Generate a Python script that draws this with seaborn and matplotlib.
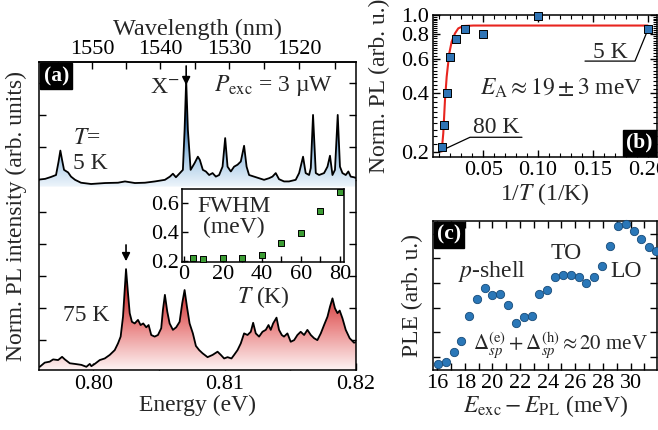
import numpy as np
import matplotlib
matplotlib.use('Agg')
import matplotlib.pyplot as plt
import seaborn as sns
from matplotlib.colors import LinearSegmentedColormap
from matplotlib.patches import PathPatch
from matplotlib.ticker import MultipleLocator, FixedLocator, NullFormatter, FormatStrFormatter

## data ##

# (a) PL spectra, 5 K (top) and 75 K (bottom), offset arbitrary units
energy_5K = [0.79591, 0.79633, 0.79678, 0.79716, 0.79735, 0.79749, 0.79762, 0.79777, 0.79808, 0.79830,
             0.79861, 0.79906, 0.79983, 0.80089, 0.80188, 0.80241, 0.80317, 0.80393, 0.80469, 0.80545,
             0.80583, 0.80606, 0.80629, 0.80659, 0.80682, 0.80695, 0.80707, 0.80720, 0.80741, 0.80771,
             0.80796, 0.80811, 0.80834, 0.80857, 0.80882, 0.80908, 0.80933, 0.80958, 0.80984, 0.81004,
             0.81022, 0.81047, 0.81072, 0.81098, 0.81123, 0.81148, 0.81167, 0.81186, 0.81224, 0.81262,
             0.81300, 0.81338, 0.81364, 0.81389, 0.81414, 0.81452, 0.81490, 0.81541, 0.81567, 0.81597,
             0.81617, 0.81643, 0.81656, 0.81673, 0.81694, 0.81719, 0.81757, 0.81783, 0.81802, 0.81821,
             0.81840, 0.81861, 0.81878, 0.81897, 0.81922, 0.81942, 0.81960, 0.81985, 0.81998]
pl_5K = [6.00, 6.02, 6.08, 6.14, 6.55, 6.90, 6.61, 6.30, 6.22, 6.09,
         5.99, 5.90, 5.86, 5.89, 5.90, 5.94, 5.89, 5.90, 5.94, 5.99,
         6.09, 6.18, 6.07, 6.20, 6.30, 7.55, 9.10, 7.55, 6.30, 6.51,
         6.71, 6.61, 6.30, 6.25, 6.14, 6.20, 6.09, 6.14, 6.40, 7.29,
         6.40, 6.25, 6.40, 6.46, 6.56, 7.05, 6.40, 6.14, 6.09, 6.04,
         5.99, 6.04, 6.09, 6.20, 6.01, 5.94, 5.94, 5.99, 6.20, 6.71,
         6.20, 6.14, 6.36, 8.01, 6.20, 6.14, 6.20, 6.40, 6.74, 6.14,
         6.30, 8.01, 6.40, 6.20, 6.14, 6.25, 6.09, 6.07, 6.05]

energy_75K = [0.79592, 0.79630, 0.79668, 0.79694, 0.79732, 0.79762, 0.79783, 0.79821, 0.79859, 0.79909,
              0.79947, 0.79973, 0.79985, 0.80011, 0.80049, 0.80087, 0.80125, 0.80163, 0.80188, 0.80208,
              0.80226, 0.80249, 0.80264, 0.80277, 0.80294, 0.80315, 0.80340, 0.80360, 0.80380, 0.80403,
              0.80421, 0.80441, 0.80467, 0.80492, 0.80517, 0.80530, 0.80545, 0.80563, 0.80581, 0.80606,
              0.80631, 0.80657, 0.80677, 0.80695, 0.80713, 0.80733, 0.80758, 0.80781, 0.80806, 0.80832,
              0.80870, 0.80908, 0.80946, 0.80971, 0.80996, 0.81022, 0.81052, 0.81072, 0.81098, 0.81123,
              0.81148, 0.81174, 0.81199, 0.81217, 0.81237, 0.81262, 0.81288, 0.81313, 0.81334, 0.81351,
              0.81369, 0.81395, 0.81414, 0.81435, 0.81452, 0.81478, 0.81503, 0.81529, 0.81554, 0.81579,
              0.81605, 0.81630, 0.81656, 0.81681, 0.81706, 0.81732, 0.81757, 0.81783, 0.81802, 0.81821,
              0.81840, 0.81859, 0.81876, 0.81897, 0.81922, 0.81952, 0.81985, 0.82005]
pl_75K = [0.17, 0.30, 0.33, 0.40, 0.38, 0.48, 0.40, 0.28, 0.26, 0.23,
          0.17, 0.26, 0.19, 0.26, 0.38, 0.43, 0.54, 0.69, 0.90, 1.11,
          1.73, 3.21, 2.46, 1.84, 1.57, 1.52, 1.63, 1.47, 1.52, 1.40,
          1.47, 1.16, 1.11, 1.16, 1.37, 1.94, 2.41, 1.89, 1.52, 1.32,
          1.40, 1.57, 2.15, 2.56, 2.04, 1.52, 1.21, 0.82, 0.69, 0.59,
          0.47, 0.54, 0.64, 0.54, 0.43, 0.47, 0.43, 0.54, 0.69, 0.90,
          1.21, 1.16, 1.26, 1.54, 1.21, 1.11, 1.26, 1.32, 1.47, 1.32,
          1.52, 1.70, 1.32, 1.16, 1.11, 1.21, 0.95, 1.00, 1.16, 1.26,
          1.16, 1.32, 1.16, 1.06, 1.00, 1.21, 1.47, 1.73, 2.04, 2.30,
          1.99, 1.84, 1.92, 1.68, 1.32, 1.06, 0.92, 0.95]

# (a) inset: linewidth vs temperature
fwhm_T = [5, 10, 20, 30, 40, 50, 60, 70, 80]
fwhm_meV = [0.218, 0.217, 0.222, 0.223, 0.243, 0.321, 0.392, 0.542, 0.670]

# (b) integrated PL vs 1/T and Arrhenius fit line
temps_K = [80, 70, 60, 50, 40, 30, 20, 10, 5]
norm_pl = [0.213, 0.274, 0.401, 0.610, 0.757, 0.848, 0.803, 0.988, 0.848]
fit_invT = [0.01205, 0.01351, 0.01506, 0.01661, 0.01898, 0.02117, 0.02418, 0.02719, 0.03176, 0.04088, 0.2000]
fit_pl = [0.201, 0.249, 0.368, 0.484, 0.638, 0.731, 0.806, 0.855, 0.879, 0.884, 0.884]

# (c) PLE
ple_dE = [16.02, 16.65, 17.18, 17.74, 18.32, 18.87, 19.43, 19.96, 20.57, 21.12,
          21.70, 22.26, 22.86, 23.39, 23.95, 24.53, 25.11, 25.66, 26.24, 26.80,
          27.35, 27.93, 28.49, 29.07, 29.67, 30.25, 30.78, 31.36, 31.87]
ple_int = [0.72, 0.80, 1.21, 1.65, 2.66, 3.36, 3.80, 3.50, 3.54, 3.10,
           2.37, 2.62, 2.67, 3.54, 3.71, 4.24, 4.31, 4.32, 4.23, 3.99,
           4.24, 4.69, 5.51, 6.32, 6.37, 6.11, 5.76, 5.44, 5.30]


## style ##
sns.set_theme(style='ticks')
plt.rcParams['font.family'] = ['Liberation Serif', 'DejaVu Serif']
plt.rcParams['mathtext.fontset'] = 'stix'
plt.rcParams['font.size'] = 16
plt.rcParams['axes.linewidth'] = 1.1
plt.rcParams['axes.edgecolor'] = 'black'
plt.rcParams['xtick.color'] = 'black'
plt.rcParams['ytick.color'] = 'black'
plt.rcParams['xtick.labelsize'] = 16
plt.rcParams['ytick.labelsize'] = 16
plt.rcParams['axes.labelsize'] = 17

LABEL_FS = 17


def gradient_fill(ax, x, y, y0, y_sat, colors):
    # vertical colour gradient clipped to the area under the curve
    x = np.asarray(x)
    y = np.asarray(y)
    poly = ax.fill_between(x, y, y0, facecolor='none', edgecolor='none')
    path = poly.get_paths()[0]
    cmap = LinearSegmentedColormap.from_list('grad', colors)
    levels = np.linspace(y0, y.max(), 400)
    grad = np.clip((levels - y0) / (y_sat - y0), 0, 1).reshape(-1, 1)
    im = ax.imshow(grad, extent=[x.min(), x.max(), y0, y.max()], origin='lower',
                   aspect='auto', cmap=cmap, vmin=0, vmax=1, zorder=1, interpolation='bilinear')
    clip = PathPatch(path, transform=ax.transData, facecolor='none', edgecolor='none')
    ax.add_patch(clip)
    im.set_clip_path(clip)


def panel_label(ax, text, corner):
    if corner == 'tl':
        xy, off, ha, va = (0, 1), (3, -3), 'left', 'top'
    else:
        xy, off, ha, va = (1, 0), (-3, 3), 'right', 'bottom'
    ax.annotate(text, xy=xy, xycoords='axes fraction', xytext=off, textcoords='offset points',
                ha=ha, va=va, color='white', fontweight='bold', fontsize=15.5, zorder=10,
                bbox=dict(boxstyle='square,pad=0.15', fc='black', ec='black'))


def e2l(e):
    e = np.asarray(e, dtype=float)
    with np.errstate(divide='ignore', invalid='ignore'):
        return 1239.84 / e


fig = plt.figure(figsize=(6.58, 4.30), dpi=100)
ax_a = fig.add_axes([0.060, 0.1395, 0.481, 0.7165])
ax_in = fig.add_axes([0.2766, 0.3907, 0.2467, 0.1698])
ax_b = fig.add_axes([0.658, 0.635, 0.3405, 0.330])
ax_c = fig.add_axes([0.658, 0.1395, 0.3405, 0.3472])

## (a) spectra ##
gradient_fill(ax_a, energy_5K, pl_5K, 5.78, 7.9, ['#eef5fb', '#9ec4e4', '#2a66a3'])
gradient_fill(ax_a, energy_75K, pl_75K, 0.07, 2.9, ['#fdf3f3', '#e98282', '#c01616'])
sns.lineplot(x=energy_5K, y=pl_5K, ax=ax_a, color='black', lw=1.3, sort=False, estimator=None, zorder=3)
sns.lineplot(x=energy_75K, y=pl_75K, ax=ax_a, color='black', lw=1.3, sort=False, estimator=None, zorder=3)

ax_a.set_xlim(0.7959, 0.82)
ax_a.set_ylim(0.07, 9.66)
ax_a.xaxis.set_major_locator(MultipleLocator(0.01))
ax_a.xaxis.set_minor_locator(MultipleLocator(0.005))
ax_a.xaxis.set_major_formatter(FormatStrFormatter('%.2f'))
ax_a.yaxis.set_major_locator(MultipleLocator(1))
ax_a.tick_params(which='both', direction='in', top=False, right=True, labelleft=False, length=5, width=1)
ax_a.set_xlabel('Energy (eV)', fontsize=LABEL_FS, labelpad=1)
ax_a.set_ylabel('Norm. PL intensity (arb. units)', fontsize=LABEL_FS, labelpad=9)

sec = ax_a.secondary_xaxis('top', functions=(e2l, e2l))
sec.xaxis.set_major_locator(MultipleLocator(10))
sec.xaxis.set_minor_locator(MultipleLocator(5))
sec.tick_params(which='both', direction='in', length=5, width=1, labelsize=16, pad=2)
sec.set_xlabel('Wavelength (nm)', fontsize=17.5, labelpad=4)

ax_a.annotate('', xy=(0.80707, 8.85), xytext=(0.80707, 9.62),
              arrowprops=dict(arrowstyle='-|>', color='black', lw=1.2, mutation_scale=12))
ax_a.annotate('', xy=(0.80249, 3.37), xytext=(0.80249, 4.05),
              arrowprops=dict(arrowstyle='-|>', color='black', lw=1.2, mutation_scale=12))
ax_a.text(0.80661, 8.85, r'X$^{-}$', ha='right', va='center', fontsize=LABEL_FS)
ax_a.text(0.81369, 8.92, r'$P_\mathrm{exc}$ = 3 µW', ha='center', va='center', fontsize=LABEL_FS)
ax_a.text(0.79846, 7.27, r'$T$=', ha='left', va='center', fontsize=LABEL_FS)
ax_a.text(0.79846, 6.49, '5 K', ha='left', va='center', fontsize=LABEL_FS)
ax_a.text(0.79770, 1.78, '75 K', ha='left', va='center', fontsize=LABEL_FS)
panel_label(ax_a, '(a)', 'tl')

## (a) inset ##
sns.scatterplot(x=fwhm_T, y=fwhm_meV, ax=ax_in, marker='s', s=24, color='#3c9c34',
                edgecolor='black', linewidth=0.7, zorder=3, clip_on=False)
ax_in.set_xlim(-0.8, 82.3)
ax_in.set_ylim(0.193, 0.694)
ax_in.xaxis.set_major_locator(MultipleLocator(20))
ax_in.xaxis.set_minor_locator(MultipleLocator(10))
ax_in.yaxis.set_major_locator(MultipleLocator(0.2))
ax_in.yaxis.set_major_formatter(FormatStrFormatter('%.1f'))
ax_in.tick_params(which='both', direction='in', length=4, width=1, pad=2)
ax_in.set_xlabel(r'$T$ (K)', fontsize=LABEL_FS, labelpad=0)
ax_in.text(25.9, 0.50, 'FWHM\n(meV)', ha='center', va='center', fontsize=LABEL_FS, linespacing=1.0)

## (b) Arrhenius plot ##
inv_T = [1.0 / t for t in temps_K]
sns.lineplot(x=fit_invT, y=fit_pl, ax=ax_b, color='#e8251f', lw=1.5, sort=False, estimator=None, zorder=2)
sns.scatterplot(x=inv_T, y=norm_pl, ax=ax_b, marker='s', s=30, color='#2f74b5',
                edgecolor='black', linewidth=0.7, zorder=3, clip_on=False)
ax_b.set_yscale('log')
ax_b.set_xlim(0.0041, 0.2085)
ax_b.set_ylim(0.1886, 1.0)
ax_b.yaxis.set_major_locator(FixedLocator([0.2, 0.4, 0.6, 0.8, 1.0]))
ax_b.yaxis.set_minor_locator(FixedLocator(np.arange(0.2, 1.001, 0.02)))
ax_b.yaxis.set_major_formatter(FormatStrFormatter('%.1f'))
ax_b.yaxis.set_minor_formatter(NullFormatter())
ax_b.xaxis.set_major_locator(MultipleLocator(0.05))
ax_b.xaxis.set_minor_locator(MultipleLocator(0.01))
ax_b.xaxis.set_major_formatter(FormatStrFormatter('%.2f'))
ax_b.tick_params(which='major', direction='in', top=True, right=True, length=5, width=1, pad=3)
ax_b.tick_params(which='minor', direction='in', top=True, right=True, length=3, width=0.8)
ax_b.set_xlabel(r'1/$T$ (1/K)', fontsize=LABEL_FS, labelpad=1)
ax_b.set_ylabel('Norm. PL (arb. u.)', fontsize=LABEL_FS, labelpad=8)
ax_b.text(0.571, 0.437, r'$E_\mathrm{A}\approx 19 \pm 3$ meV', transform=ax_b.transAxes,
          ha='center', va='baseline', fontsize=LABEL_FS)
ax_b.text(0.1663, 0.606, '5 K', ha='center', va='baseline', fontsize=LABEL_FS)
ax_b.plot([0.1428, 0.1884, 0.1989], [0.582, 0.582, 0.809], color='black', lw=0.9)
ax_b.text(0.0614, 0.249, '80 K', ha='center', va='baseline', fontsize=LABEL_FS)
ax_b.plot([0.0853, 0.0379, 0.0130], [0.2377, 0.2377, 0.2047], color='black', lw=0.9)
panel_label(ax_b, '(b)', 'br')

## (c) PLE ##
sns.scatterplot(x=ple_dE, y=ple_int, ax=ax_c, marker='o', s=36, color='#2a77b8',
                edgecolor='#174a78', linewidth=0.6, zorder=3, clip_on=False)
ax_c.set_xlim(15.69, 31.92)
ax_c.set_ylim(0.474, 6.52)
ax_c.xaxis.set_major_locator(MultipleLocator(2))
ax_c.xaxis.set_minor_locator(MultipleLocator(1))
ax_c.yaxis.set_major_locator(MultipleLocator(1))
ax_c.tick_params(which='major', direction='in', top=True, right=True, labelleft=False, length=5, width=1, pad=3)
ax_c.tick_params(which='minor', direction='in', top=True, right=True, length=5, width=1)
ax_c.set_xlabel(r'$E_\mathrm{exc}-E_\mathrm{PL}$ (meV)', fontsize=LABEL_FS, labelpad=0)
ax_c.set_ylabel('PLE (arb. u.)', fontsize=LABEL_FS, labelpad=7)
ax_c.text(19.95, 4.45, r'$p$-shell', ha='center', va='center', fontsize=LABEL_FS)
ax_c.text(25.33, 5.21, 'TO', ha='center', va='center', fontsize=LABEL_FS)
ax_c.text(29.70, 4.46, 'LO', ha='center', va='center', fontsize=LABEL_FS)
ax_c.text(24.95, 1.25,
          r'$\mathit{\Delta}_{sp}^{(\mathrm{e})}+\mathit{\Delta}_{sp}^{(\mathrm{h})}\approx 20$ meV',
          ha='center', va='baseline', fontsize=15)
panel_label(ax_c, '(c)', 'tl')

fig.savefig('out.png', dpi=100)
plt.close(fig)
